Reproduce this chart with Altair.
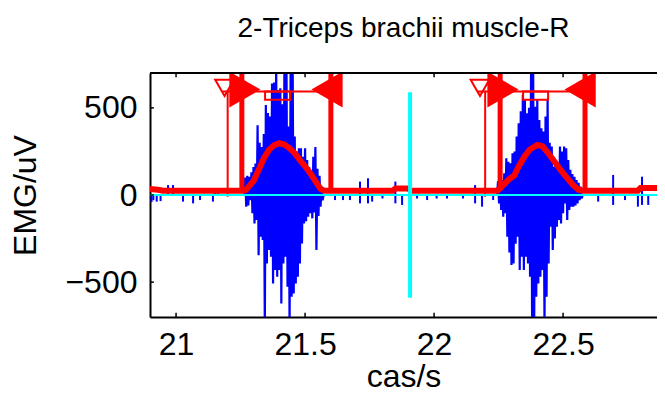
import altair as alt
import pandas as pd

# ---------------- axes ----------------
X_MIN, X_MAX = 20.899, 22.864
Y_MIN, Y_MAX = -700, 700
X_TICKS = [21, 21.5, 22, 22.5]
Y_TICKS = [-500, 0, 500]

# ---------------- EMG bursts (alternating + / - samples) ----------------
SAMPLE_STEP = 0.004
BURST_STARTS = [21.268, 22.248]
burst1_pos = [100, 110, 105, 130, 160, 180, 400, 300, 275, 350, 517, 470, 450, 640, 645,
              760, 603, 613, 520, 760, 760, 393, 760, 760, 335, 250, 268, 268, 220, 268,
              200, 160, 144, 220, 275, 150, 110, 48]
burst1_neg = [-67, -60, -30, -105, -163, -144, -345, -239, -258, -760, -393, -316, -354, -508,
              -431, -469, -431, -623, -393, -354, -527, -760, -584, -565, -508, -469, -393,
              -278, -163, -150, -125, -105, -134, -100, -316, -120, -67, -30]
burst2_pos = [80, 90, 86, 125, 211, 190, 182, 239, 250, 335, 412, 480, 575, 546, 469, 500,
              760, 760, 507, 546, 431, 383, 364, 450, 546, 300, 278, 163, 200, 163, 278, 250,
              278, 268, 200, 144, 120, 105, 86, 70, 48]
burst2_neg = [-48, -86, -125, -105, -239, -330, -402, -393, -280, -239, -431, -354, -431, -354,
              -393, -469, -760, -760, -584, -508, -469, -431, -760, -584, -393, -182, -316,
              -250, -182, -144, -163, -105, -48, -144, -86, -67, -67, -60, -48, -30, -20]

# ---------------- baseline noise blips ----------------
noise_t = [20.905, 20.912, 20.925, 20.940, 20.969, 20.988, 21.027, 21.066, 21.093, 21.143,
           21.150, 21.163, 21.616, 21.647, 21.674, 21.713, 21.713, 21.744, 21.744, 21.760,
           21.800, 21.850, 21.850, 21.876, 21.934, 21.973, 22.010, 22.050, 22.112, 22.159,
           22.159, 22.186, 22.229, 22.636, 22.694, 22.694, 22.740, 22.790, 22.806, 22.806,
           22.830, 22.868, 22.884]
noise_v = [-40, -30, -38, -35, 57, 57, -38, -48, -29, -38,
           40, 40, -29, -29, -29, 77, -48, 96, -48, -38,
           -20, 77, -48, -57, -20, -29, -20, -20, -20, 57,
           -48, -67, -29, -38, 115, -57, -29, -67, 105, -57,
           -57, -29, 48]

# ---------------- red envelope ----------------
env_t = [20.895, 20.930, 20.950, 21.260, 21.270, 21.300, 21.320, 21.340, 21.360, 21.380,
         21.400, 21.420, 21.440, 21.460, 21.480, 21.500, 21.520, 21.540, 21.560, 21.575,
         21.840, 21.850, 21.900, 21.910, 22.245, 22.270, 22.290, 22.310, 22.330, 22.350,
         22.370, 22.400, 22.420, 22.440, 22.460, 22.480, 22.500, 22.520, 22.540, 22.560,
         22.575, 22.790, 22.800, 22.870, 22.880, 22.895]
env_v = [35, 30, 25, 25, 28, 80, 144, 210, 259, 285,
         297, 290, 268, 240, 200, 165, 125, 80, 35, 25,
         25, 38, 38, 25, 25, 60, 90, 110, 170, 220,
         260, 287, 280, 245, 205, 165, 126, 90, 55, 30,
         25, 25, 40, 40, 25, 25]

# ---------------- detection markers ----------------
onset_t = [21.255, 22.256]
offset_t = [21.600, 22.585]
thin_t = [21.200, 22.198]
line_start_t = [21.180, 22.170]
marker_line_v = 594
tri_right_t = [21.267, 22.267]
tri_left_t = [21.585, 22.566]
tri_v = 605
open_tri_t = [21.188, 22.178]
open_tri_v = 615
rect_t1 = [21.345, 22.345]
rect_t2 = [21.442, 22.442]
rect_v1, rect_v2 = 546, 594
cyan_t = [21.907, 22.888]
cyan_v = 590

BLUE, RED, CYAN = "#0000ff", "#ff0000", "#00ffff"
FONT = "Liberation Sans"

# ---------------- tables ----------------
rows = []
for b, (start, pos, neg) in enumerate(zip(BURST_STARTS, [burst1_pos, burst2_pos], [burst1_neg, burst2_neg])):
    rows.append({"t": start - SAMPLE_STEP, "v": 0, "b": b})
    for k, (p, n) in enumerate(zip(pos, neg)):
        rows.append({"t": start + 2 * k * SAMPLE_STEP, "v": p, "b": b})
        rows.append({"t": start + (2 * k + 1) * SAMPLE_STEP, "v": n, "b": b})
    rows.append({"t": start + 2 * len(pos) * SAMPLE_STEP, "v": 0, "b": b})
burst_df = pd.DataFrame(rows)
burst_df["i"] = range(len(burst_df))

noise_df = pd.DataFrame({"t": noise_t, "v": noise_v, "v0": 0})
env_df = pd.DataFrame({"t": env_t, "v": env_v})
thick_df = pd.DataFrame({"t": onset_t + offset_t, "v": 25, "v2": Y_MAX})
thin_df = pd.DataFrame({"t": thin_t, "v": -10, "v2": marker_line_v})
hline_df = pd.DataFrame({"t": line_start_t, "t2": offset_t, "v": marker_line_v})
rect_df = pd.DataFrame({"t": rect_t1, "t2": rect_t2, "v": rect_v1, "v2": rect_v2})
tri_r_df = pd.DataFrame({"t": tri_right_t, "v": tri_v})
tri_l_df = pd.DataFrame({"t": tri_left_t, "v": tri_v})
open_df = pd.DataFrame({"t": open_tri_t, "v": open_tri_v})
cyan_df = pd.DataFrame({"t": cyan_t, "v": -cyan_v, "v2": cyan_v})
zero_df = pd.DataFrame({"v": [0]})
top_df = pd.DataFrame({"v": [Y_MAX]})

xt_rows = []
for x in X_TICKS:
    xt_rows.append({"t": x, "v": Y_MIN, "v2": Y_MIN + 25})
    xt_rows.append({"t": x, "v": Y_MAX, "v2": Y_MAX - 25})
xtick_df = pd.DataFrame(xt_rows)
ytick_df = pd.DataFrame({"t": X_MIN, "t2": X_MIN + 0.015, "v": Y_TICKS})

xscale = alt.Scale(domain=[X_MIN, X_MAX], nice=False, zero=False)
yscale = alt.Scale(domain=[Y_MIN, Y_MAX], nice=False, zero=False)
xaxis = alt.Axis(values=X_TICKS, title="cas/s", labelPadding=12, titlePadding=1, format="~g")
yaxis = alt.Axis(values=Y_TICKS, title="EMG/uV", labelPadding=13, titlePadding=22, format="d")


def X(f="t"):
    return alt.X(f, type="quantitative", scale=xscale, axis=xaxis)


def Y(f="v"):
    return alt.Y(f, type="quantitative", scale=yscale, axis=yaxis)


noise = alt.Chart(noise_df).mark_rule(color=BLUE, strokeWidth=2, clip=True).encode(
    x=X(), y=Y(), y2="v0")
bursts = alt.Chart(burst_df).mark_line(color=BLUE, strokeWidth=2.2, clip=True).encode(
    x=X(), y=Y(), detail="b:N", order="i:Q")
env = alt.Chart(env_df).mark_line(color=RED, strokeWidth=6, clip=True).encode(x=X(), y=Y())
thick = alt.Chart(thick_df).mark_rule(color=RED, strokeWidth=5, clip=True).encode(
    x=X(), y=Y(), y2="v2")
thin = alt.Chart(thin_df).mark_rule(color=RED, strokeWidth=2, clip=True).encode(
    x=X(), y=Y(), y2="v2")
hline = alt.Chart(hline_df).mark_rule(color=RED, strokeWidth=2, clip=True).encode(
    x=X(), x2="t2", y=Y())
rect = alt.Chart(rect_df).mark_rect(filled=False, stroke=RED, strokeWidth=2, clip=True).encode(
    x=X(), x2="t2", y=Y(), y2="v2")
tri_r = alt.Chart(tri_r_df).mark_point(shape="triangle-right", filled=True, color=RED, size=1300,
                                        opacity=1, clip=True).encode(x=X(), y=Y())
tri_l = alt.Chart(tri_l_df).mark_point(shape="triangle-left", filled=True, color=RED, size=1300,
                                        opacity=1, clip=True).encode(x=X(), y=Y())
open_tri = alt.Chart(open_df).mark_point(shape="triangle-down", filled=False, color=RED, size=350,
                                          strokeWidth=2, opacity=1, clip=True).encode(x=X(), y=Y())
cyan_v_lines = alt.Chart(cyan_df).mark_rule(color=CYAN, strokeWidth=4, clip=True).encode(
    x=X(), y=Y(), y2="v2")
zero_line = alt.Chart(zero_df).mark_rule(color=CYAN, strokeWidth=2).encode(y=Y())
top_frame = alt.Chart(top_df).mark_rule(color="black", strokeWidth=2).encode(y=Y())
xticks = alt.Chart(xtick_df).mark_rule(color="black", strokeWidth=1.5).encode(
    x=X(), y=Y(), y2="v2")
yticks = alt.Chart(ytick_df).mark_rule(color="black", strokeWidth=1.5).encode(
    x=X(), x2="t2", y=Y())

chart = alt.layer(
    noise, bursts, env, thick, thin, hline, rect, tri_r, tri_l, open_tri,
    cyan_v_lines, zero_line, top_frame, xticks, yticks
).properties(
    width=507, height=244,
    title=alt.TitleParams("2-Triceps brachii muscle-R", font=FONT, fontSize=28,
                          fontWeight="normal", color="black", offset=29, anchor="middle"),
    autosize=alt.AutoSizeParams(type="none"),
    padding={"left": 142, "top": 65, "right": 0, "bottom": 77},
).configure_view(
    stroke=None
).configure_axis(
    grid=False, domain=True, domainColor="black", domainWidth=2, ticks=False,
    labelFont=FONT, labelFontSize=32, labelColor="black",
    titleFont=FONT, titleFontSize=32, titleFontWeight="normal", titleColor="black",
)

chart.save("out.html", embed_options={"renderer": "svg", "actions": False})
